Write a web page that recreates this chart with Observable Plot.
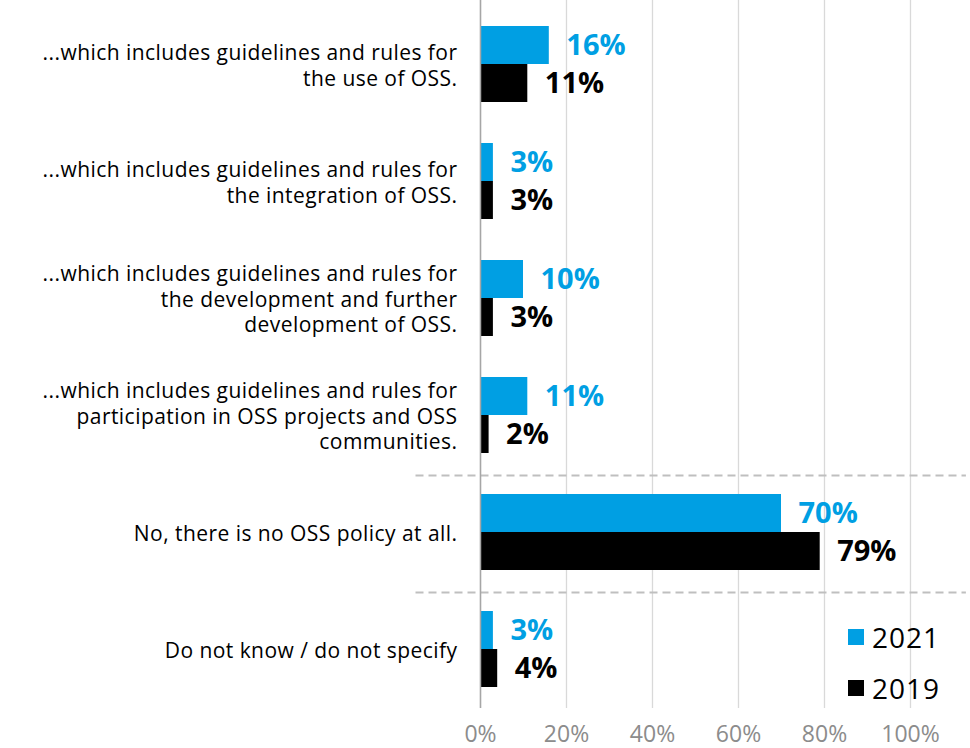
<!DOCTYPE html>
<html>
<head>
<meta charset="utf-8">
<script src="https://cdn.jsdelivr.net/npm/d3@7"></script>
<script src="https://cdn.jsdelivr.net/npm/@observablehq/plot@0.6"></script>
<style>
  html, body { margin: 0; padding: 0; background: #fff; }
  #wrap { position: relative; width: 970px; height: 748px; font-family: 'Open Sans', sans-serif; }
  #legend { position: absolute; left: 848px; top: 611px; font-size: 28px; letter-spacing: 1px; color: #000; }
  #legend .item { display: flex; align-items: center; height: 51px; }
  #legend .sw { width: 16px; height: 16px; margin-right: 8px; }
</style>
</head>
<body>
<div id="wrap"></div>
<script>
const categories = [
  "...which includes guidelines and rules for\nthe use of OSS.",
  "...which includes guidelines and rules for\nthe integration of OSS.",
  "...which includes guidelines and rules for\nthe development and further\ndevelopment of OSS.",
  "...which includes guidelines and rules for\nparticipation in OSS projects and OSS\ncommunities.",
  "No, there is no OSS policy at all.",
  "Do not know / do not specify"
];
const values2021 = [16, 3, 10, 11, 70, 3];
const values2019 = [11, 3, 3, 2, 79, 4];
const seriesNames = ["2021", "2019"];
const seriesColors = ["#009FE3", "#000000"];
const xTicks = [0, 20, 40, 60, 80, 100];
const separators = [categories[4], categories[5]];

const d2021 = categories.map((c, i) => ({cat: c, year: seriesNames[0], value: values2021[i]}));
const d2019 = categories.map((c, i) => ({cat: c, year: seriesNames[1], value: values2019[i]}));

const half = 38;
const chart = Plot.plot({
  width: 970,
  height: 748,
  marginLeft: 480,
  marginRight: 60,
  marginTop: 0,
  marginBottom: 40,
  style: {fontFamily: "'Open Sans', sans-serif", background: "#fff", overflow: "visible"},
  x: {domain: [0, 100], axis: null, label: null},
  y: {domain: categories, range: [6, 708], paddingInner: 0.35, paddingOuter: 0.175, axis: null, label: null},
  marks: [
    Plot.gridX(xTicks, {stroke: "#d9d9d9", strokeOpacity: 1, strokeWidth: 1.3}),
    Plot.ruleY(separators, {y: d => d, dy: -57, x1: -15, x2: 113, stroke: "#bfbfbf", strokeWidth: 2, strokeDasharray: "8,5", clip: false}),
    Plot.barX(d2021, {y: "cat", x: "value", fill: seriesColors[0], insetBottom: half}),
    Plot.barX(d2019, {y: "cat", x: "value", fill: seriesColors[1], insetTop: half}),
    Plot.ruleX([0], {stroke: "#a6a6a6", strokeWidth: 1.5}),
    Plot.text(d2021, {y: "cat", x: "value", text: d => d.value + "%", dx: 17, dy: -19, textAnchor: "start", fill: seriesColors[0], fontSize: 29, fontWeight: "bold"}),
    Plot.text(d2019, {y: "cat", x: "value", text: d => d.value + "%", dx: 17, dy: 19, textAnchor: "start", fill: seriesColors[1], fontSize: 29, fontWeight: "bold"}),
    Plot.text(categories, {y: d => d, text: d => d, frameAnchor: "left", dx: -23, textAnchor: "end", lineHeight: 1.22, fontSize: 21, fill: "#000"}),
    Plot.axisX(xTicks, {tickFormat: d => d + "%", tickSize: 0, tickPadding: 17, fontSize: 23, fill: "#8c8c8c", anchor: "bottom", label: null})
  ]
});
chart.querySelectorAll("text").forEach(t => {
  if (t.textContent.includes("which") || t.textContent.includes("Do not") || t.textContent.includes("No, there")) {
    t.style.letterSpacing = "0.45px";
  }
});
const wrap = document.getElementById("wrap");
wrap.appendChild(chart);

const legend = document.createElement("div");
legend.id = "legend";
seriesNames.forEach((n, i) => {
  const it = document.createElement("div");
  it.className = "item";
  const sw = document.createElement("span");
  sw.className = "sw";
  sw.style.background = seriesColors[i];
  const tx = document.createElement("span");
  tx.textContent = n;
  it.appendChild(sw); it.appendChild(tx);
  legend.appendChild(it);
});
wrap.appendChild(legend);
</script>
</body>
</html>
